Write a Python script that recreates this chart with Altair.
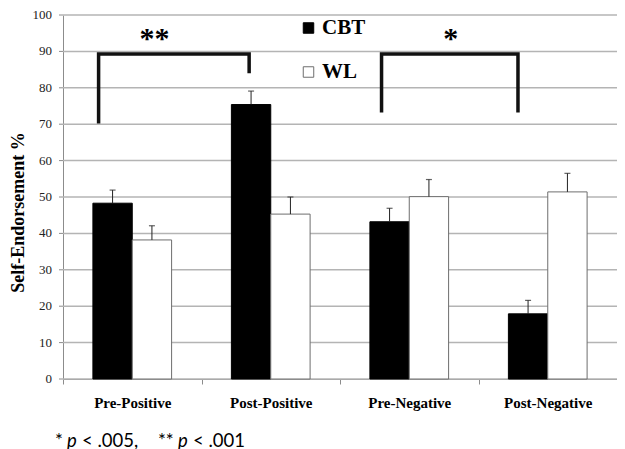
import altair as alt
import pandas as pd

# ---- data -------------------------------------------------------------
categories = ["Pre-Positive", "Post-Positive", "Pre-Negative", "Post-Negative"]
groups = ["CBT", "WL"]
cbt_values = [48.3, 75.4, 43.2, 17.9]
cbt_errors = [3.6, 3.7, 3.7, 3.7]
wl_values = [38.2, 45.3, 50.1, 51.4]
wl_errors = [3.9, 4.7, 4.7, 5.1]
y_ticks = [0, 10, 20, 30, 40, 50, 60, 70, 80, 90, 100]

# significance brackets (x in category units 0..4, y in %)
bracket_ids = ["a", "a", "a", "a", "b", "b", "b", "b"]
bracket_order = [0, 1, 2, 3, 0, 1, 2, 3]
bracket_x = [0.257, 0.257, 1.344, 1.344, 2.30, 2.30, 3.285, 3.285]
bracket_y = [70.2, 89.3, 89.3, 84.0, 73.2, 89.3, 89.3, 73.2]
star_labels = ["**", "*"]
star_x = [0.66, 2.80]
star_y = [89.3, 89.3]

footnote_parts = ["*", "p", "< .005,", "**", "p", "< .001"]
footnote_italic = [False, True, False, False, True, False]

# ---- tables -----------------------------------------------------------
rows = []
for i, c in enumerate(categories):
    rows.append({"category": c, "group": "CBT", "value": cbt_values[i],
                 "upper": cbt_values[i] + cbt_errors[i]})
    rows.append({"category": c, "group": "WL", "value": wl_values[i],
                 "upper": wl_values[i] + wl_errors[i]})
df = pd.DataFrame(rows)

bdf = pd.DataFrame({"id": bracket_ids, "ord": bracket_order,
                    "pos": bracket_x, "value": bracket_y})
sdf = pd.DataFrame({"label": star_labels, "pos": star_x, "value": star_y})
tdf = pd.DataFrame({"value": y_ticks})

SERIF = "Liberation Serif"
GRAY = "#8c8c8c"
W, H = 554, 364

legend = alt.Legend(
    title=None, orient="none", legendX=235, legendY=2.5,
    symbolType="square", symbolSize=110, symbolStrokeWidth=1,
    labelFont=SERIF, labelFontWeight="bold", labelFontSize=21,
    labelColor="#000000", labelOffset=3, rowPadding=22, padding=0,
)

x_axis = alt.Axis(title=None, labelAngle=0, tickBand="extent",
                  labelFont=SERIF, labelFontWeight="bold", labelFontSize=15,
                  labelColor="#000000", tickSize=5, labelPadding=11,
                  tickColor=GRAY, domainColor=GRAY, grid=False)
x_scale = alt.Scale(paddingInner=0, paddingOuter=0)
xoff = alt.XOffset("group:N", sort=groups,
                   scale=alt.Scale(paddingInner=0, paddingOuter=0.76))

y_scale = alt.Scale(domain=[0, 100], nice=False)
# axis keeps only its line and title; ticks, labels and grid are drawn
# below from y_ticks through the same y scale
y_axis = alt.Axis(title="Self-Endorsement %", titleX=-36, titleY=197,
                  titleFont=SERIF, titleFontWeight="bold", titleFontSize=18,
                  titleColor="#000000", labels=False, ticks=False,
                  grid=False, domainColor=GRAY)
y_enc = alt.Y("value:Q", scale=y_scale, axis=y_axis)

grid = alt.Chart(tdf).mark_rule(color="#b4b4b4", strokeWidth=1.5).encode(
    x=alt.value(0), x2=alt.value(W), y=y_enc)
yticks = alt.Chart(tdf).mark_rule(color=GRAY, strokeWidth=1).encode(
    x=alt.value(-4), x2=alt.value(0), y=y_enc)
ylabels = alt.Chart(tdf).mark_text(
    font=SERIF, fontSize=13, align="right", baseline="middle", color="#222222"
).encode(x=alt.value(-11), y=y_enc, text="value:Q")

base = alt.Chart(df)
bars = base.mark_bar(strokeWidth=1).encode(
    x=alt.X("category:N", sort=categories, scale=x_scale, axis=x_axis),
    xOffset=xoff, y=y_enc,
    fill=alt.Fill("group:N", sort=groups,
                  scale=alt.Scale(domain=groups, range=["#000000", "#ffffff"]),
                  legend=legend),
    stroke=alt.Stroke("group:N", sort=groups,
                      scale=alt.Scale(domain=groups, range=["#000000", "#6e6e6e"]),
                      legend=legend),
)
err = base.mark_rule(color="#222222", strokeWidth=1).encode(
    x=alt.X("category:N", sort=categories, scale=x_scale, axis=None),
    xOffset=xoff, y=y_enc, y2="upper:Q")
caps = base.mark_tick(color="#222222", thickness=1.2, size=6).encode(
    x=alt.X("category:N", sort=categories, scale=x_scale, axis=None),
    xOffset=xoff, y=alt.Y("upper:Q", scale=y_scale, axis=y_axis))

ann_x = alt.X("pos:Q", scale=alt.Scale(domain=[0, 4], nice=False, zero=False),
              axis=None)
brackets = alt.Chart(bdf).mark_line(
    color="#111111", strokeWidth=3.5, strokeCap="butt", strokeJoin="miter"
).encode(x=ann_x, y=y_enc, detail="id:N", order="ord:Q")
stars = alt.Chart(sdf).mark_text(
    font=SERIF, fontWeight="bold", fontSize=30, baseline="alphabetic",
    align="center", dy=-6, color="#000000"
).encode(x=ann_x, y=y_enc, text="label:N")

foot_x = [-8, 4, 19, 95, 115, 130]
foot_layers = []
for part, ital, fx in zip(footnote_parts, footnote_italic, foot_x):
    foot_layers.append(
        alt.Chart(pd.DataFrame({"t": [part]})).mark_text(
            font="Lato", fontSize=18.5, fontStyle="italic" if ital else "normal",
            align="left", baseline="alphabetic", color="#000000"
        ).encode(x=alt.value(fx), y=alt.value(431.5), text="t:N")
    )

chart = alt.layer(
    grid, yticks, ylabels, bars, err, caps, brackets, stars, *foot_layers
).resolve_scale(x="independent").properties(
    width=W, height=H,
    padding={"left": 55, "top": 7, "right": 0, "bottom": 70},
    autosize=alt.AutoSizeParams(type="none"),
).configure_view(strokeWidth=0)

chart.save("out.html", embed_options={"renderer": "svg", "actions": False})
